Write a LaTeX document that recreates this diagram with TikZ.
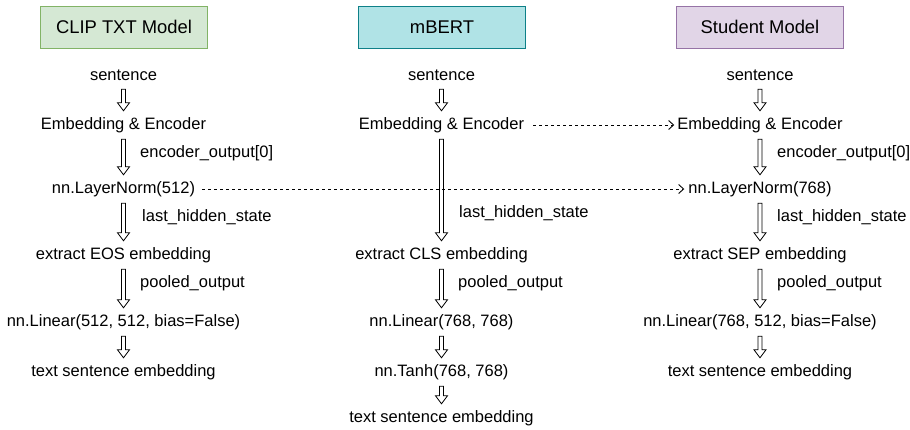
\documentclass[tikz,border=0pt]{standalone}
\usepackage{fontspec}
\setmainfont{Liberation Sans}
\usetikzlibrary{calc,arrows.meta}

\definecolor{clipfill}{HTML}{D5E8D4}
\definecolor{clipline}{HTML}{82B366}
\definecolor{bertfill}{HTML}{B0E3E6}
\definecolor{bertline}{HTML}{0E8088}
\definecolor{studfill}{HTML}{E1D5E7}
\definecolor{studline}{HTML}{9673A6}

\tikzset{
  header/.style={draw, line width=1pt, minimum width=167pt, minimum height=42pt,
    inner sep=0pt, font=\fontsize{18.4}{22}\selectfont},
  stage/.style={inner sep=0pt, minimum height=28pt, font=\fontsize{16.5}{20}\selectfont},
  tag/.style={inner sep=0pt, anchor=west, font=\fontsize{16.5}{20}\selectfont},
  hollow/.style={draw=black, fill=white, line width=0.8pt, line join=miter,
    to path={
      let \p1=(\tikztostart), \p2=(\tikztotarget) in
      (\x1-2pt,\y1) -- (\x1-2pt,\y2+8pt) -- (\x1-6pt,\y2+8pt) -- (\x1,\y2)
      -- (\x1+6pt,\y2+8pt) -- (\x1+2pt,\y2+8pt) -- (\x1+2pt,\y1) -- cycle
    }},
  link/.style={draw, line width=0.8pt, dash pattern=on 3pt off 3pt,
    -{Straight Barb[length=5pt,width=9pt,line width=0.9pt]}}
}

\begin{document}
\begin{tikzpicture}[x=1pt,y=-1pt]
\useasboundingbox (0,0) rectangle (910,429);

% column headers
\node[header, fill=clipfill, draw=clipline] (hA) at (124,27) {CLIP TXT Model};
\node[header, fill=bertfill, draw=bertline] (hB) at (442,27) {mBERT};
\node[header, fill=studfill, draw=studline] (hC) at (760,27) {Student Model};

% CLIP text pipeline
\node[stage] (a1) at (123.5,75) {sentence};
\node[stage] (a2) at (123.5,125) {Embedding \& Encoder};
\node[stage] (a3) at (123.5,189) {nn.LayerNorm(512)};
\node[stage] (a4) at (123.5,255) {extract EOS embedding};
\node[stage] (a5) at (123.5,322) {nn.Linear(512, 512, bias=False)};
\node[stage] (a6) at (123.5,372) {text sentence embedding};

% mBERT pipeline
\node[stage] (b1) at (441.5,75) {sentence};
\node[stage] (b2) at (441.5,125) {Embedding \& Encoder};
\node[stage] (b4) at (441.5,255) {extract CLS embedding};
\node[stage] (b5) at (441.5,322) {nn.Linear(768, 768)};
\node[stage] (b6) at (441.5,372) {nn.Tanh(768, 768)};
\node[stage] (b7) at (441.5,418) {text sentence embedding};

% student pipeline
\node[stage] (c1) at (760,75) {sentence};
\node[stage] (c2) at (760,125) {Embedding \& Encoder};
\node[stage] (c3) at (760,189) {nn.LayerNorm(768)};
\node[stage] (c4) at (760,255) {extract SEP embedding};
\node[stage] (c5) at (760,322) {nn.Linear(768, 512, bias=False)};
\node[stage] (c6) at (760,372) {text sentence embedding};

% flow arrows
\draw[hollow] (a1.south) to (a2.north);
\draw[hollow] (a2.south) to (a3.north);
\draw[hollow] (a3.south) to (a4.north);
\draw[hollow] (a4.south) to (a5.north);
\draw[hollow] (a5.south) to (a6.north);

\draw[hollow] (b1.south) to (b2.north);
\draw[hollow] (b2.south) to (b4.north);
\draw[hollow] (b4.south) to (b5.north);
\draw[hollow] (b5.south) to (b6.north);
\draw[hollow] (b6.south) to (b7.north);

\draw[hollow] (c1.south) to (c2.north);
\draw[hollow] (c2.south) to (c3.north);
\draw[hollow] (c3.south) to (c4.north);
\draw[hollow] (c4.south) to (c5.north);
\draw[hollow] (c5.south) to (c6.north);

% arrow labels
\node[tag] (la1) at (140,153) {encoder\_output[0]};
\node[tag] (la2) at (142,217) {last\_hidden\_state};
\node[tag] (la3) at (140,283) {pooled\_output};
\node[tag] (lb2) at (459,213) {last\_hidden\_state};
\node[tag] (lb3) at (458,283) {pooled\_output};
\node[tag] (lc1) at (777,153) {encoder\_output[0]};
\node[tag] (lc2) at (777,217) {last\_hidden\_state};
\node[tag] (lc3) at (777,283) {pooled\_output};

% initialisation links into the student
\draw[link, shorten <=9pt, shorten >=3pt] (b2.east) -- (c2.west);
\draw[link, shorten <=7pt, shorten >=4pt] (a3.east) -- (c3.west);
\end{tikzpicture}
\end{document}
